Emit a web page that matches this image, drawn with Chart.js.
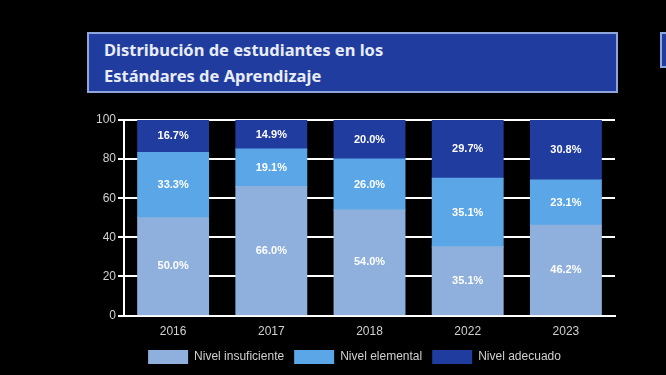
<!DOCTYPE html>
<html>
<head>
<meta charset="utf-8">
<script src="https://cdn.jsdelivr.net/npm/chart.js@4.4.1/dist/chart.umd.min.js"></script>
<style>
  html, body { margin: 0; padding: 0; background: #000; }
  #wrap { position: relative; width: 666px; height: 375px; }
  #title {
    position: absolute; left: 87px; top: 32px; width: 531px; height: 61px;
    background: #1f3c9e; border: 2px solid #8fa6dc;
    color: #e8ecf7; font-family: "Noto Sans", sans-serif; font-weight: bold;
    font-size: 16.5px; line-height: 26px; padding: 3px 0 0 15px; box-sizing: border-box;
  }
  #side {
    position: absolute; left: 660px; top: 32px; width: 8px; height: 36px;
    background: #1f3c9e; border: 2px solid #8fa6dc; box-sizing: border-box;
  }
  canvas { position: absolute; left: 0; top: 0; }
</style>
</head>
<body>
<div id="wrap">
  <canvas id="chart" width="666" height="375"></canvas>
  <div id="title">Distribución de estudiantes en los<br>Estándares de Aprendizaje</div>
  <div id="side"></div>
</div>
<script>
const years = ["2016", "2017", "2018", "2022", "2023"];
const insuficiente = [50.0, 66.0, 54.0, 35.1, 46.2];
const elemental = [33.3, 19.1, 26.0, 35.1, 23.1];
const adecuado = [16.7, 14.9, 20.0, 29.7, 30.8];
const yTicks = [0, 20, 40, 60, 80, 100];

// labels inside each bar segment
const segLabels = {
  id: "segLabels",
  afterDatasetsDraw(chart) {
    const ctx = chart.ctx;
    ctx.save();
    ctx.font = "bold 11px Arial, 'Liberation Sans', sans-serif";
    ctx.fillStyle = "#ffffff";
    ctx.textAlign = "center";
    ctx.textBaseline = "middle";
    chart.data.datasets.forEach((ds, i) => {
      chart.getDatasetMeta(i).data.forEach((bar, j) => {
        const mid = (bar.y + bar.base) / 2;
        ctx.fillText(ds.data[j].toFixed(1) + "%", bar.x, mid);
      });
    });
    ctx.restore();
  }
};

const colors = ["#8fb0dd", "#5aa6e6", "#1f3c9e"];
const data = {
  labels: years,
  datasets: [
    { label: "Nivel insuficiente", data: insuficiente },
    { label: "Nivel elemental", data: elemental },
    { label: "Nivel adecuado", data: adecuado },
  ],
};
data.datasets.forEach((ds, i) => {
  ds.backgroundColor = colors[i];
  ds.borderWidth = 0;
  ds.inflateAmount = 0.6;
  ds.barPercentage = 0.72;
  ds.categoryPercentage = 1;
});

const font12 = { size: 12, family: "Arial, 'Liberation Sans', sans-serif" };

const config = {
  type: "bar",
  data,
  options: {
    responsive: false,
    animation: false,
    layout: { padding: { left: 94, right: 51, top: 120, bottom: 1 } },
    plugins: {
      legend: {
        position: "bottom",
        labels: {
          boxWidth: 40,
          boxHeight: 14,
          padding: 10,
          color: "#d0d0d0",
          font: font12,
        },
      },
      tooltip: { enabled: false },
    },
    scales: {
      x: {
        stacked: true,
        grid: { display: false },
        border: { color: "#ffffff", width: 2 },
        ticks: { color: "#d0d0d0", font: font12, padding: 1 },
      },
      y: {
        stacked: true,
        min: 0,
        max: 100,
        afterBuildTicks: (axis) => { axis.ticks = yTicks.map((v) => ({ value: v })); },
        grid: { color: "#ffffff", lineWidth: 2, tickLength: 6 },
        border: { color: "#ffffff", width: 2 },
        ticks: { color: "#d0d0d0", font: font12, padding: 2 },
      },
    },
  },
  plugins: [segLabels],
};

const chart = new Chart(document.getElementById("chart"), config);
</script>
</body>
</html>
